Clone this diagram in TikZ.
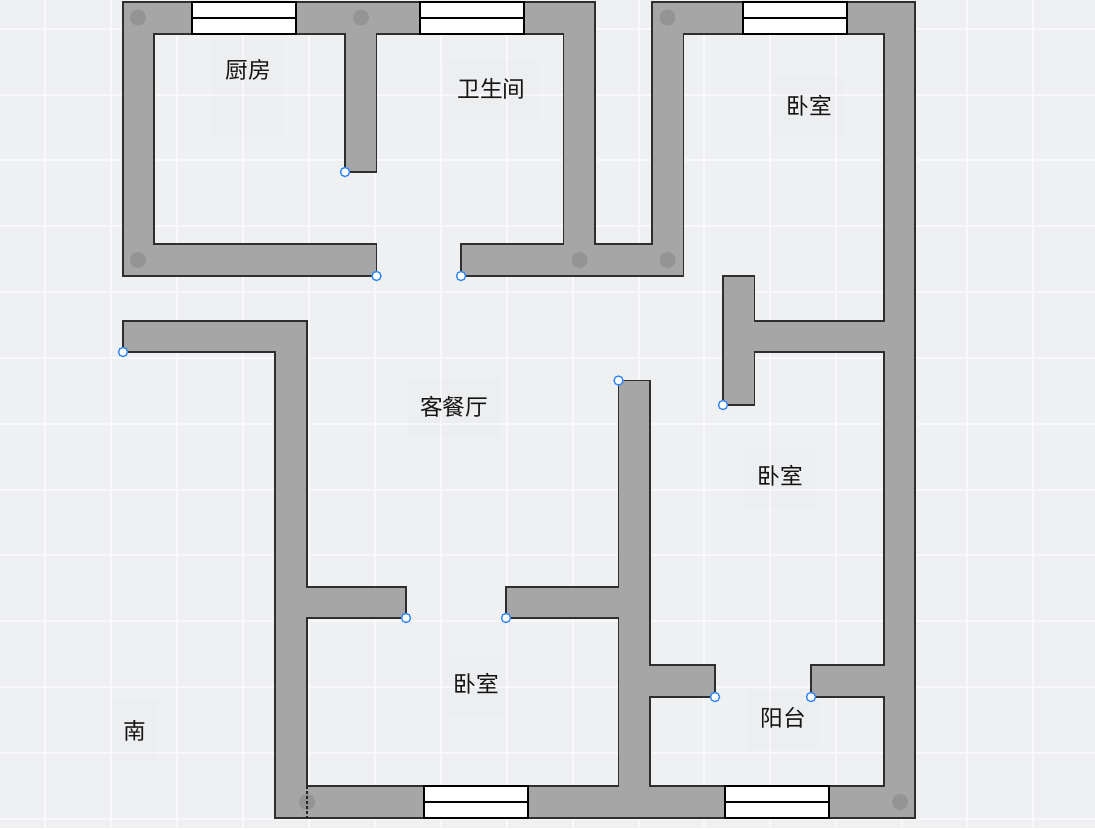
\documentclass[tikz,border=0pt]{standalone}
\usepackage{fontspec}
\setmainfont{Noto Sans CJK SC}
\definecolor{bgc}{HTML}{EFF0F2}
\definecolor{gridc}{HTML}{F9F9FB}
\definecolor{wallc}{HTML}{A6A6A6}
\definecolor{edgec}{HTML}{2E2E2E}
\definecolor{dotc}{HTML}{949494}
\definecolor{bluec}{HTML}{2F86F6}
\tikzset{
  px/.style={x=0.75pt,y=-0.75pt},
  gridline/.style={draw=gridc,line width=1.1pt},
  wall/.style={fill=wallc,draw=edgec,line width=1pt,line join=miter},
  windowpane/.style={fill=white,draw=black,line width=1pt},
  pillar/.style={fill=dotc,draw=none},
  handle/.style={circle,fill=white,draw=bluec,line width=1pt,minimum size=6.8pt,inner sep=0pt},
  patch/.style={fill=black,fill opacity=0.008,draw=none},
  roomlabel/.style={font=\fontsize{17pt}{18pt}\selectfont,text=black!92,inner sep=0pt}
}
\begin{document}
\begin{tikzpicture}[px]
\useasboundingbox (0,0) rectangle (1095,828);
\fill[bgc] (0,0) rectangle (1095,828);
% grid
\foreach \x in {45,111,177,243,309,375,441,507,573,639,704,770,836,902,967,1033}
  \draw[gridline] (\x,0) -- (\x,828);
\foreach \y in {29,95,160,226,292,358,424,490,555,621,687,753,819}
  \draw[gridline] (0,\y) -- (1095,\y);
% label patches
\fill[patch] (213,40) rectangle (282,136);
\fill[patch] (444,60) rectangle (538,120);
\fill[patch] (772,76) rectangle (845,136);
\fill[patch] (408,378) rectangle (500,438);
\fill[patch] (744,447) rectangle (815,508);
\fill[patch] (443,655) rectangle (505,715);
\fill[patch] (748,690) rectangle (818,750);
\fill[patch] (112,700) rectangle (158,760);
% walls
\draw[wall] (123,2) -- (595,2) -- (595,244) -- (652,244) -- (652,2) -- (915,2) -- (915,818)
  -- (275,818) -- (275,352) -- (123,352) -- (123,321) -- (307,321) -- (307,587) -- (406,587)
  -- (406,618) -- (307,618) -- (307,786) -- (618.5,786) -- (618.5,618) -- (506,618) -- (506,587)
  -- (618.5,587) -- (618.5,380.5) -- (650,380.5) -- (650,665) -- (715,665) -- (715,697) -- (650,697)
  -- (650,786) -- (884,786) -- (884,697) -- (811,697) -- (811,665) -- (884,665) -- (884,352)
  -- (754.5,352) -- (754.5,405) -- (723,405) -- (723,276) -- (754.5,276) -- (754.5,321) -- (884,321)
  -- (884,34) -- (683.5,34) -- (683.5,276) -- (461,276) -- (461,244) -- (563.5,244) -- (563.5,34)
  -- (376.5,34) -- (376.5,172) -- (345,172) -- (345,34) -- (154,34) -- (154,244) -- (376.5,244)
  -- (376.5,276) -- (123,276) -- cycle;
% windows
\foreach \a/\t in {192/2,420/2,743/2,424/786,725/786}{
  \draw[windowpane] (\a,\t) rectangle ({\a+104},{\t+32});
  \draw[windowpane] (\a,{\t+16}) -- ({\a+104},{\t+16});
}
% pillars
\foreach \x/\y in {138/17.5,361/17.5,667.5/17.5,138/260,579.5/260,667.5/260,307/802,900/802}
  \fill[pillar] (\x,\y) circle[radius=8];
\draw[black!85,line width=0.8pt,dash pattern=on 1.9pt off 1.9pt] (307,786) -- (307,818);
% endpoint handles
\node[handle] (h1) at (345,172) {};
\node[handle] (h2) at (376.5,276) {};
\node[handle] (h3) at (461,276) {};
\node[handle] (h4) at (123,352) {};
\node[handle] (h5) at (618.5,380.5) {};
\node[handle] (h6) at (723,405) {};
\node[handle] (h7) at (406,618) {};
\node[handle] (h8) at (506,618) {};
\node[handle] (h9) at (715,697) {};
\node[handle] (h10) at (811,697) {};
% labels
\node[roomlabel] (kitchen) at (248,69.5) {厨房};
\node[roomlabel] (bath) at (491.5,88.5) {卫生间};
\node[roomlabel] (bedA) at (809,105.5) {卧室};
\node[roomlabel] (living) at (454,406.5) {客餐厅};
\node[roomlabel] (bedB) at (780,475.5) {卧室};
\node[roomlabel] (bedC) at (476.5,683.5) {卧室};
\node[roomlabel] (balcony) at (783.5,717.5) {阳台};
\node[roomlabel] (south) at (135,730.5) {南};
\end{tikzpicture}
\end{document}
